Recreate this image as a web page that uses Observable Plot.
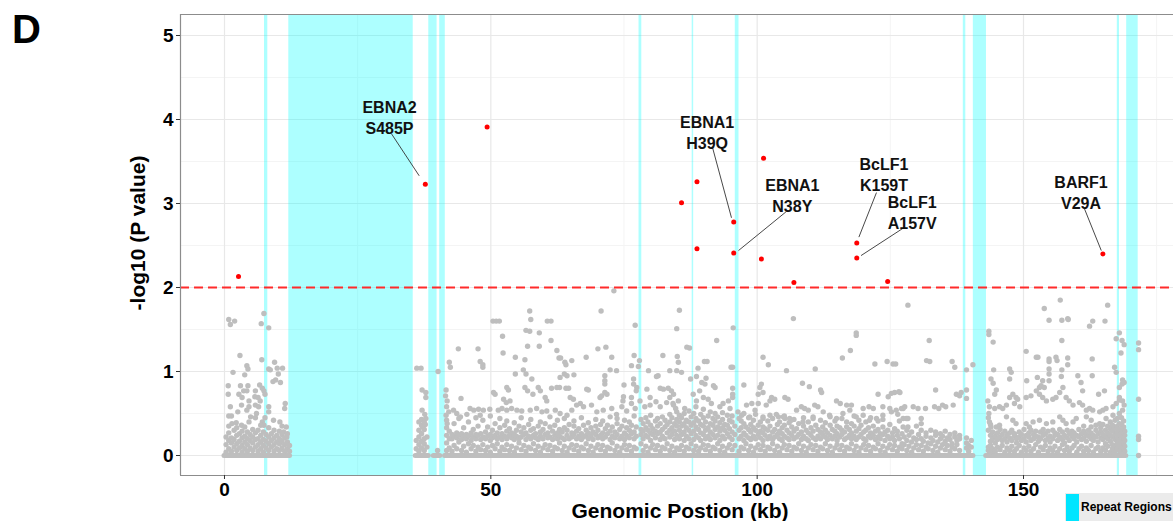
<!DOCTYPE html>
<html><head><meta charset="utf-8">
<script src="https://cdn.jsdelivr.net/npm/d3@7"></script>
<script src="https://cdn.jsdelivr.net/npm/@observablehq/plot@0.6"></script>
<style>
html,body{margin:0;padding:0;background:#fff;overflow:hidden;}
#wrap{position:relative;width:1173px;height:521px;overflow:hidden;font-family:"Liberation Sans",Arial,sans-serif;}
#legend{position:absolute;left:1065px;top:493px;width:108px;height:28px;background:#ebebeb;overflow:hidden;}
#legend .sw{position:absolute;left:1px;top:1px;width:13px;height:27px;background:#00e5ff;}
#legend .tx{position:absolute;left:16px;top:7px;font-weight:bold;font-size:12px;color:#000;white-space:nowrap;}
</style></head>
<body><div id="wrap"><div id="chart"></div>
<div id="legend"><span class="sw"></span><span class="tx">Repeat Regions</span></div></div>
<script>
const xDomain = [-8.26, 178.16];
const yDomain = [-0.238, 5.25];
const xTicks = [0, 50, 100, 150];
const xMinor = [25, 75, 125, 175];
const yTicks = [0, 1, 2, 3, 4, 5];
const yMinor = [0.5, 1.5, 2.5, 3.5, 4.5];
const threshold = 2;
const xTitle = "Genomic Postion (kb)";
const yTitle = "-log10 (P value)";
const panelTag = "D";

// repeat regions [start kb, end kb]
const repeatRegions = [[7.51,8.13],[12.07,35.43],[38.35,39.91],[40.40,41.45],[77.82,78.34],[87.80,88.08],[95.89,96.59],[138.70,139.17],[140.58,143.05],[167.61,168.02],[169.37,171.53]];

// runs of variants with -log10 P = 0 [start kb, end kb]
const zeroRuns = [[0,12.3],[35.9,38.35],[39.3,40.5],[41.4,140.6],[143.0,169.3]];

// significant variants [kb, -log10 P]
const redPoints = [[2.63,2.13],[37.7,3.23],[49.3,3.91],[85.8,3.01],[88.7,3.26],[88.7,2.46],[95.6,2.78],[95.6,2.41],[101.2,3.54],[100.8,2.34],[106.9,2.06],[118.7,2.53],[118.7,2.35],[124.5,2.07],[164.9,2.40]];

// annotation labels
const labelText = ["EBNA2\nS485P","EBNA1\nH39Q","EBNA1\nN38Y","BcLF1\nK159T","BcLF1\nA157V","BARF1\nV29A"];
const labelAt = [[30.98,4.03],[90.6,3.85],[106.6,3.10],[123.8,3.35],[129.1,2.90],[160.8,3.14]];
const leaderFrom = [[31.35,3.83],[91.56,3.68],[105.4,2.90],[122.4,3.13],[127.5,2.71],[161.3,2.96]];
const leaderTo = [[36.55,3.33],[95.18,2.83],[96.5,2.44],[119.1,2.60],[119.5,2.38],[164.6,2.44]];

// non-significant variants [kb, -log10 P]
const grayA = [[0.8,1.62],[1.1,1.56],[1.9,1.6],[7.4,1.69],[6.9,1.57],[8.3,1.52],[2.9,1.19],[7.0,1.14],[4.2,1.07],[4.4,1.03],[1.6,0.99],[3.8,0.96],[9.4,1.11],[8.3,1.03],[8.6,1.02],[9.9,1.04],[10.9,1.04],[10.1,0.97],[9.6,0.9],[9.1,0.88],[10.5,0.87],[0.7,0.83],[3.0,0.83],[4.4,0.83],[0.7,0.73],[2.7,0.73],[3.6,0.77],[4.2,0.77],[5.8,0.77],[6.6,0.84],[7.1,0.8],[7.4,0.77],[7.6,0.73],[3.3,0.69],[4.6,0.65],[5.7,0.7],[6.3,0.69],[6.7,0.65],[11.4,0.62],[11.3,0.56],[1.1,0.58],[3.2,0.6],[4.6,0.58],[5.8,0.6],[6.4,0.58],[8.3,0.58],[8.3,0.52],[0.8,0.47],[1.3,0.47],[4.2,0.54],[4.9,0.46],[5.8,0.45],[9.2,0.42],[7.1,0.4],[7.4,0.36],[1.4,0.38],[2.2,0.39],[3.2,0.36],[4.6,0.4],[11.6,0.34],[11.1,0.28],[11.7,0.22],[7.6,0.45],[6.0,0.5],[2.5,0.52],[10.4,0.4]];
const grayB = [[36.1,1.04],[36.9,1.04],[40.1,1.0],[37.1,0.78],[37.8,0.75],[37.8,0.69],[37.1,0.54],[37.6,0.49],[37.8,0.44],[36.5,0.4],[37.2,0.34],[37.7,0.37],[42.2,1.11],[42.4,1.05],[41.6,0.78],[41.5,0.71],[41.8,0.65],[41.7,0.58],[41.6,0.48],[41.8,0.38]];
const grayC = [[43.9,1.27],[47.6,1.27],[48.0,1.12],[48.5,1.08],[48.5,1.05],[50.4,1.6],[51.0,1.6],[51.6,1.6],[52.2,1.42],[52.3,1.22],[54.6,1.17],[57.3,1.72],[57.5,1.62],[56.6,1.49],[57.3,1.48],[59.1,1.46],[56.9,1.3],[59.1,1.3],[56.4,1.14],[56.1,1.02],[56.6,0.97],[57.7,0.91],[60.6,1.6],[61.3,1.6],[61.3,1.37],[62.4,1.25],[62.8,1.16],[63.1,1.16],[63.9,1.11],[64.1,1.08],[65.2,1.13],[63.8,0.97],[64.3,0.95],[65.6,0.96],[63.0,0.93],[67.9,1.17],[70.1,1.27],[70.7,1.72],[71.6,1.29],[72.7,1.17],[73.1,1.96],[72.4,1.02],[73.6,1.01],[71.4,0.95],[71.4,0.89],[71.4,0.85],[75.0,0.84],[77.1,1.55],[76.9,1.19],[77.9,1.13],[76.4,1.07],[77.7,1.06],[76.8,0.91],[76.8,0.85],[79.6,1.01],[81.4,0.95],[81.1,0.94],[82.3,1.19],[84.9,1.51],[85.0,1.18],[85.2,1.11],[83.6,1.01],[84.9,1.01],[85.4,1.73],
[53.0,0.81],[53.3,0.78],[50.5,0.75],[50.8,0.73],[44.4,0.68],[52.4,0.67],[52.9,0.63],[53.6,0.65],[54.6,0.97],[56.4,0.81],[56.9,0.77],[57.9,0.73],[58.9,0.81],[59.3,0.77],[60.2,0.69],[60.5,0.65],[61.4,0.8],[62.4,0.81],[62.9,0.81],[64.1,0.8],[64.6,0.8],[64.9,0.69],[65.5,0.67],[68.0,0.79],[68.3,0.78],[70.5,0.69],[70.8,0.71],[71.4,0.75],[71.8,0.73],[74.9,0.7],[74.8,0.65],[76.4,0.69],[77.3,0.77],[77.4,0.81],[79.3,0.79],[79.9,0.69],[81.8,0.8],[82.4,0.79],[83.3,0.8],[83.9,0.77],[84.3,0.73],
[42.1,0.52],[43.0,0.54],[43.6,0.5],[46.1,0.56],[46.8,0.54],[47.7,0.55],[48.6,0.54],[49.8,0.55],[44.3,0.46],[45.5,0.49],[48.0,0.48],[51.4,0.54],[52.1,0.56],[53.0,0.54],[53.9,0.56],[54.9,0.54],[55.8,0.53],[57.4,0.54],[58.6,0.56],[59.6,0.52],[60.5,0.53],[62.1,0.54],[63.0,0.5],[64.3,0.48],[65.2,0.54],[66.1,0.6],[66.8,0.62],[67.4,0.58],[68.9,0.6],[69.9,0.52],[71.1,0.54],[72.7,0.56],[73.6,0.49],[74.6,0.58],[75.5,0.53],[76.4,0.62],[77.1,0.56],[78.0,0.65],[78.9,0.58],[79.9,0.6],[81.0,0.64],[81.8,0.58],[83.0,0.63],[84.3,0.6]];
const grayD = [[86.8,1.29],[87.3,1.28],[85.8,0.99],[87.5,0.91],[88.9,1.04],[88.6,0.94],[89.6,0.87],[90.2,0.85],[90.4,0.92],[90.1,1.12],[90.6,1.12],[92.4,1.37],[95.1,1.05],[95.4,1.05],[95.5,1.52],[95.4,0.8],[95.4,0.73],[95.4,0.69],[97.5,0.84],[91.8,0.83],[92.1,0.81],[101.1,1.17],[102.1,1.08],[100.5,0.81],[100.8,0.85],[101.1,0.75],[100.2,0.73],[105.5,1.01],[106.8,1.63],[108.5,0.86],[109.8,0.82],[110.9,1.03],[111.9,0.78],[112.1,0.75],[116.0,1.16],[117.5,1.25],[118.6,1.46],[118.6,1.43],[122.1,1.09],[124.4,1.12],[125.5,1.09],[126.0,1.09],[122.7,0.73],[124.6,0.7],[125.2,0.74],[125.8,0.75],[126.6,0.76],[128.3,1.79],[102.7,0.69],[103.3,0.67],[105.2,0.69],[105.8,0.67],[108.3,0.58],[108.9,0.56],[109.6,0.54],[110.8,0.6],[111.4,0.58],[114.9,0.65],[115.6,0.62],[116.8,0.6],[117.7,0.6],[119.9,0.56],[121.0,0.58],[121.8,0.56],[123.6,0.58],[124.9,0.56],[126.1,0.54],[127.4,0.56],[128.3,0.44],
[83.6,0.69],[84.2,0.62],[84.7,0.56],[85.2,0.65],[86.4,0.56],[88.0,0.73],[88.6,0.65],[89.2,0.77],[89.9,0.69],[90.8,0.67],[91.4,0.62],[93.0,0.58],[93.6,0.62],[94.6,0.65],[94.9,0.56],[98.0,0.6],[99.0,0.62],[99.6,0.54],[100.2,0.62],[101.7,0.6],[102.4,0.65],[104.0,0.46],[105.2,0.44],[106.1,0.44],
[96.4,0.52],[97.1,0.48],[98.6,0.46],[101.1,0.44],[102.4,0.48],[103.6,0.49],[104.9,0.46],[106.4,0.42],[107.4,0.54],[108.6,0.4],[110.5,0.46],[112.4,0.52],[113.6,0.48],[114.9,0.44],[116.1,0.5],[117.4,0.54],[118.6,0.46],[119.9,0.48],[121.1,0.42],[122.4,0.44],[123.6,0.48],[125.2,0.52],[126.4,0.49],[127.4,0.44],
[132.3,1.37],[131.8,1.13],[132.4,1.12],[136.6,1.12],[137.1,1.05],[139.3,1.02],[140.5,1.08],[133.5,0.78],[137.4,0.73],[138.0,0.71],[138.3,0.75],[139.3,0.78],[139.3,0.68],[126.8,0.75],[127.1,0.56],[127.7,0.58],[129.3,0.58],[130.2,0.56],[131.6,0.56],[133.3,0.58],[134.1,0.56],[134.8,0.6],[135.4,0.58],[136.8,0.6],[128.0,0.44],[127.4,0.34],[128.3,0.34],[130.8,0.44],[130.8,0.38]];
const grayE = [[143.5,1.48],[143.5,1.44],[144.3,1.35],[144.4,1.02],[143.9,0.91],[144.3,0.86],[144.9,0.78],[144.6,0.73],[147.4,1.03],[147.7,0.99],[147.4,0.91],[150.5,1.24],[150.6,0.89],[152.4,1.17],[152.7,1.17],[152.6,0.93],[153.6,0.89],[153.9,1.75],[154.8,1.61],[154.8,1.15],[154.8,1.12],[154.8,1.03],[154.8,0.97],[154.8,0.89],[156.1,1.17],[156.3,1.13],[156.9,1.85],[157.2,1.61],[158.3,1.63],[158.4,1.62],[157.2,1.37],[157.2,1.02],[157.1,0.94],[158.3,1.16],[158.3,1.08],[160.2,0.95],[160.8,0.87],[161.1,0.77],[162.4,1.54],[163.0,1.6],[162.9,1.15],[162.9,0.95],[165.3,1.6],[165.8,1.79],[164.1,0.73],[165.2,0.77],[167.1,1.05],[167.4,0.99],[167.4,1.39],[168.0,1.46],[168.5,1.37],[168.9,1.32],[168.3,1.22],[168.6,0.9],[168.9,0.87],[168.5,0.85],[168.0,0.81],[168.0,0.66],[171.6,1.34],[171.6,1.26],[171.6,0.67],[171.6,0.23],[171.6,0.19],[171.6,0],
[143.3,0.65],[143.6,0.58],[143.5,0.5],[143.6,0.4],[143.9,0.34],[144.6,0.56],[145.5,0.58],[146.1,0.56],[146.8,0.6],[147.4,0.69],[148.0,0.73],[148.6,0.69],[148.9,0.67],[148.3,0.62],[149.3,0.58],[150.5,0.69],[151.4,0.71],[152.4,0.77],[153.0,0.81],[153.3,0.83],[153.9,0.81],[153.0,0.73],[153.6,0.69],[154.3,0.65],[155.5,0.67],[156.1,0.69],[156.8,0.75],[157.4,0.81],[158.0,0.69],[158.6,0.65],[159.3,0.6],[160.5,0.63],[161.1,0.6],[161.8,0.54],[162.4,0.56],[163.0,0.54],[164.3,0.52],[164.9,0.54],[165.5,0.56],[166.8,0.58],[167.4,0.62],[168.0,0.69],[168.6,0.65],[168.9,0.6],
[144.9,0.34],[145.5,0.36],[146.8,0.46],[148.0,0.42],[148.6,0.38],[150.5,0.38],[151.1,0.34],[151.8,0.4],[153.0,0.42],[154.3,0.38],[155.5,0.4],[156.8,0.46],[157.4,0.42],[158.0,0.38],[159.3,0.4],[159.9,0.44],[161.8,0.46],[162.7,0.42],[164.3,0.38],[165.5,0.44],[166.8,0.48],[168.0,0.5],[168.6,0.54]];

// dense low-value variants: [kb, values...]
const denseColumns = [
[0.3,.04,.13,.22],[0.8,.08,.18,.27,.35],[1.3,.05,.15,.21],[1.8,.1,.19,.3],[2.3,.06,.14,.24,.33],[2.8,.09,.17,.26],[3.3,.04,.12,.21,.29],[3.8,.08,.16,.23,.34],[4.3,.05,.13,.2,.28],[4.8,.09,.18,.25],[5.3,.06,.15,.22,.31],[5.8,.1,.19,.27],[6.3,.05,.13,.2,.3],[6.8,.08,.16,.24,.36],[7.3,.04,.12,.19,.28],[7.8,.09,.17,.25],[8.3,.06,.14,.22,.33],[8.8,.1,.18,.26],[9.3,.05,.13,.21,.3],[9.8,.08,.16,.24],[10.3,.06,.14,.2,.29],[10.8,.09,.17,.25,.35],[11.3,.05,.13,.21],[11.8,.08,.16,.26],[12.2,.05,.12],
[36.0,.08,.18],[36.5,.05,.13,.22,.3],[37.0,.09,.17,.26,.36,.43],[37.5,.06,.14,.2,.31,.4],[38.0,.1,.22],[40.0,.06],[41.7,.06,.15,.24,.33,.42],[42.2,.09,.2,.29],
[42.7,.05,.2,.25],[43.1,.12,.23,.38],[43.6,.08,.21,.27],[44.0,.16,.24,.44],[44.5,.06,.19,.26],[44.9,.11,.22,.33],[45.4,.04,.2,.25],[45.8,.14,.23,.4],[46.3,.08,.18,.27],[46.7,.12,.22,.31],[47.2,.05,.2,.25,.45],[47.6,.1,.24,.35],[48.1,.07,.19,.26],[48.5,.13,.22,.42],[49.0,.06,.2,.28],[49.4,.1,.23,.34],[49.9,.04,.18,.25,.47],[50.3,.12,.21,.3],[50.8,.08,.24,.38],[51.2,.14,.2,.27],[51.7,.05,.22,.33,.44],[52.1,.1,.19,.26],[52.6,.07,.23,.36],[53.0,.13,.2,.29,.41],[53.5,.06,.24,.32],[53.9,.11,.21,.27],[54.4,.04,.19,.25,.39],[54.8,.09,.23,.3],[55.3,.15,.2,.35],[55.7,.07,.22,.28,.45],[56.2,.12,.25,.33],[56.6,.05,.19,.27],[57.1,.1,.23,.37],[57.5,.08,.2,.3,.43],[58.0,.14,.24,.32],[58.4,.06,.21,.26],[58.9,.11,.19,.35],[59.3,.04,.23,.28,.4],[59.8,.09,.2,.31],[60.2,.13,.25,.38],[60.7,.07,.21,.27],[61.1,.12,.22,.34,.46],[61.6,.05,.19,.29],[62.0,.1,.24,.36],[62.5,.08,.2,.27,.42],[62.9,.15,.23,.31],[63.4,.06,.21,.28],[63.8,.11,.19,.33,.44],[64.3,.04,.24,.3],[64.7,.09,.2,.37],[65.2,.13,.22,.27],[65.6,.07,.25,.35,.41],[66.1,.12,.2,.29],[66.5,.05,.23,.32],[67.0,.1,.19,.26,.45],[67.4,.08,.22,.36],[67.9,.14,.24,.3],[68.3,.06,.2,.27,.39],[68.8,.11,.23,.33],[69.2,.04,.19,.28],[69.7,.09,.25,.35,.43],[70.1,.13,.21,.3],[70.6,.07,.24,.37],[71.0,.12,.2,.27,.41],[71.5,.05,.22,.32],[71.9,.1,.26,.36],[72.4,.08,.19,.29,.46],[72.8,.15,.23,.34],[73.3,.06,.21,.28],[73.7,.11,.25,.38,.44],[74.2,.04,.2,.31],[74.6,.09,.23,.35],[75.1,.13,.19,.27,.42],[75.5,.07,.24,.33],[76.0,.12,.21,.3,.4],[76.4,.05,.26,.36],[76.9,.1,.2,.28,.47],[77.3,.08,.23,.34],[78.2,.14,.25,.31,.43],[78.6,.06,.2,.29,.38],[79.1,.11,.24,.33,.45],[79.5,.04,.22,.3,.4],[80.0,.09,.18,.27,.36,.48],[80.4,.13,.25,.32],[80.9,.07,.21,.29,.41],[81.3,.12,.26,.35,.44],[81.8,.05,.19,.28,.38],[82.2,.1,.23,.31,.46],[82.7,.08,.2,.34,.42],[83.1,.14,.27,.37],[83.6,.06,.22,.3,.4,.49],[84.0,.11,.25,.33,.45],[84.5,.04,.19,.29,.38],[84.9,.09,.24,.35,.43,.52],
[85.4,.07,.2,.3,.4,.48],[85.8,.12,.25,.35,.45],[86.3,.05,.18,.28,.38,.5],[86.7,.1,.23,.33,.42],[87.2,.08,.2,.3,.4,.53],[87.6,.14,.26,.36,.46],[88.1,.06,.19,.29,.39,.5],[88.5,.11,.24,.34,.44,.58],[89.0,.05,.21,.31,.41],[89.4,.09,.18,.27,.37,.49],[89.9,.13,.25,.35,.45,.55],[90.3,.07,.2,.3,.4],[90.8,.12,.23,.33,.47],[91.2,.05,.19,.28,.38,.52],[91.7,.1,.25,.36,.44],[92.1,.08,.21,.31,.41,.5],[92.6,.14,.24,.34,.46],[93.0,.06,.18,.29,.39],[93.5,.11,.23,.33,.43,.51],[93.9,.04,.2,.3,.37],[94.4,.09,.26,.36,.48],[94.8,.13,.22,.32,.42],[95.3,.07,.19,.28,.4,.47],[95.8,.12,.25,.35],[96.6,.05,.2,.3,.44],[97.0,.1,.23,.33,.41],[97.5,.08,.18,.27,.38,.5],[97.9,.14,.24,.34],[98.4,.06,.21,.31,.45],[98.8,.11,.19,.28,.37],[99.3,.04,.23,.33,.42],[99.7,.09,.2,.3,.49],[100.2,.13,.25,.36],[100.6,.07,.21,.29,.4],[101.1,.12,.18,.27,.34,.46],[101.5,.05,.24,.32],[102.0,.1,.2,.3,.41],[102.4,.08,.23,.35],[102.9,.14,.19,.28,.44],[103.3,.06,.22,.31],[103.8,.11,.25,.37],[104.2,.04,.2,.29,.4],[104.7,.09,.18,.26,.33],[105.1,.13,.23,.36,.47],[105.6,.07,.21,.3],[106.0,.12,.19,.27,.39],[106.5,.05,.24,.34],[106.9,.1,.2,.29,.43],[107.4,.08,.22,.32],[107.8,.14,.25,.38],[108.3,.06,.19,.28],[108.7,.11,.23,.35,.45],[109.2,.04,.2,.3],[109.6,.09,.18,.27,.4],[110.1,.13,.24,.33],[110.5,.07,.21,.29,.44],[111.0,.12,.19,.36],[111.4,.05,.23,.31],[111.9,.1,.2,.28,.42],[112.3,.08,.25,.34],[112.8,.14,.22,.3,.39],[113.2,.06,.19,.27],[113.7,.11,.24,.36,.46],[114.1,.04,.2,.31],[114.6,.09,.23,.29,.41],[115.0,.13,.18,.26,.35],[115.5,.07,.22,.33],[115.9,.12,.25,.3,.44],[116.4,.05,.19,.28],[116.8,.1,.21,.34,.4],[117.3,.08,.24,.31],[117.7,.14,.2,.27,.38],[118.2,.06,.23,.35,.47],[118.6,.11,.19,.29],[119.1,.04,.22,.32,.42],[119.5,.09,.25,.36],[120.0,.13,.2,.28],[120.4,.07,.18,.3,.4],[120.9,.12,.23,.33],[121.3,.05,.21,.27,.45],[121.8,.1,.24,.35],[122.2,.08,.19,.29],[122.7,.14,.22,.31,.41],[123.1,.06,.2,.26],[123.6,.11,.25,.34,.43],[124.0,.04,.18,.28],[124.5,.09,.23,.3],[124.9,.13,.2,.37],[125.4,.07,.22,.27],[125.8,.12,.18,.32],[126.3,.05,.24,.29],[126.7,.1,.2,.41],[127.2,.08,.14,.26],[127.6,.13,.22],[128.1,.06,.18,.3],[128.5,.11,.24],[129.0,.04,.16,.28],[129.4,.09,.21],[129.9,.13,.19,.35],[130.3,.07,.25],[130.8,.12,.2,.3],[131.2,.05,.17],[131.7,.1,.23,.27],[132.1,.08,.15],[132.6,.14,.21,.3],[133.0,.06,.18],[133.5,.11,.24,.28],[133.9,.04,.16],[134.4,.09,.2,.26],[134.8,.13,.23],[135.3,.07,.17,.29],[135.7,.12,.21],[136.2,.05,.19,.25],[136.6,.1,.14],[137.1,.08,.22,.27],[137.5,.13,.18],[138.0,.06,.2,.24],[139.3,.09,.15,.21],[139.7,.05,.12],[140.2,.1,.18],
[143.4,.06,.1,.3,.45],[143.8,.04,.12,.17,.24,.37],[144.2,.08,.2,.28],[144.7,.05,.15,.23],[145.1,.1,.19,.27],[145.6,.07,.22,.31],[146.0,.12,.18,.25],[146.5,.04,.2,.29],[146.9,.09,.16,.24],[147.4,.06,.21,.27],[147.8,.11,.18,.3],[148.3,.05,.23,.26],[148.7,.08,.15,.2],[149.2,.12,.22,.28],[149.6,.04,.18,.25],[150.1,.09,.2,.31],[150.5,.06,.16,.24],[151.0,.11,.22,.27],[151.4,.05,.18,.3],[151.9,.08,.2,.25],[152.3,.13,.23,.29],[152.8,.04,.17,.22],[153.2,.1,.2,.28],[153.7,.07,.24,.31],[154.1,.12,.18,.26],[154.6,.05,.21,.29],[155.0,.09,.16,.23],[155.5,.06,.2,.3],[155.9,.11,.24,.27],[156.4,.04,.18,.25],[156.8,.08,.22,.31],[157.3,.13,.19,.28],[157.7,.06,.15,.24],[158.2,.1,.21,.3],[158.6,.05,.18,.26],[159.1,.09,.23,.29],[159.5,.12,.2,.27],[160.0,.04,.16,.24],[160.4,.08,.22,.31],[160.9,.11,.19,.26],[161.3,.05,.21,.29,.35],[161.8,.09,.17,.25],[162.2,.06,.23,.3],[162.7,.12,.2,.27,.34],[163.1,.04,.18,.24],[163.6,.08,.22,.3,.36],[164.0,.1,.16,.26],[164.5,.05,.21,.28,.33],[164.9,.09,.19,.25,.37],[165.4,.06,.14,.23,.3],[165.8,.11,.2,.27,.35],[166.3,.04,.17,.24,.32,.4],[166.7,.08,.13,.22,.29,.36],[167.2,.05,.11,.19,.26,.33,.42],[167.6,.09,.15,.21,.28,.35,.44],[168.0,.06,.12,.18,.25,.31,.38],[168.4,.04,.1,.16,.23,.3,.37,.45],[168.8,.07,.14,.2,.27,.34,.41],[169.0,.05,.11,.18,.24,.29]
];

const gray = [...grayA, ...grayB, ...grayC, ...grayD, ...grayE].map(([x, y]) => ({x, y}))
  .concat(denseColumns.flatMap(([x, ...vs]) => vs.map(y => ({x, y}))));
const reds = redPoints.map(([x, y]) => ({x, y}));
const bands = repeatRegions.map(([x1, x2]) => ({x1, x2}));
const runs = zeroRuns.map(([x1, x2]) => ({x1, x2}));
const labels = labelText.map((t, i) => ({
  text: t, x: labelAt[i][0], y: labelAt[i][1],
  x1: leaderFrom[i][0], y1: leaderFrom[i][1], x2: leaderTo[i][0], y2: leaderTo[i][1]
}));

const chart = Plot.plot({
  width: 1173,
  height: 521,
  marginLeft: 180,
  marginRight: 0,
  marginTop: 14,
  marginBottom: 46,
  x: {domain: xDomain},
  y: {domain: yDomain},
  style: {fontFamily: '"Liberation Sans", Arial, sans-serif', fontWeight: "bold", color: "#000", background: "#fff", overflow: "visible"},
  marks: [
    Plot.gridX(xMinor, {stroke: "#f4f4f4", strokeOpacity: 1, strokeWidth: 1}),
    Plot.gridY(yMinor, {stroke: "#f4f4f4", strokeOpacity: 1, strokeWidth: 1}),
    Plot.gridX(xTicks, {stroke: "#e8e8e8", strokeOpacity: 1, strokeWidth: 1.2}),
    Plot.gridY(yTicks, {stroke: "#e8e8e8", strokeOpacity: 1, strokeWidth: 1.2}),
    Plot.rect(bands, {x1: "x1", x2: "x2", y1: yDomain[0], y2: yDomain[1], fill: "#00ffff", fillOpacity: 0.32}),
    Plot.ruleY(runs, {x1: "x1", x2: "x2", y: 0, stroke: "#bebebe", strokeWidth: 5, strokeLinecap: "round"}),
    Plot.dot(gray, {x: "x", y: "y", r: 2.7, fill: "#bebebe", stroke: null}),
    Plot.ruleY([threshold], {stroke: "#ff2b2b", strokeWidth: 2, strokeDasharray: "9,5"}),
    Plot.dot(reds, {x: "x", y: "y", r: 2.5, fill: "#ff0000", stroke: null}),
    Plot.link(labels, {x1: "x1", y1: "y1", x2: "x2", y2: "y2", stroke: "#333", strokeWidth: 0.9}),
    Plot.text(labels, {x: "x", y: "y", text: "text", fontSize: 16, lineHeight: 1.3, fill: "#111"}),
    Plot.ruleX([xDomain[0]], {stroke: "#8c8c8c", strokeWidth: 1.2}),
    Plot.ruleY([yDomain[0], yDomain[1]], {stroke: "#8c8c8c", strokeWidth: 1.2}),
    Plot.axisX(xTicks, {tickSize: 4, tickPadding: 3, fontSize: 19, stroke: "#333", label: null, tickFormat: d => String(d)}),
    Plot.axisY(yTicks, {tickSize: 4, tickPadding: 3, fontSize: 19, stroke: "#333", label: null, tickFormat: d => String(d)}),
    Plot.text([xTitle], {text: d => d, frameAnchor: "bottom", lineAnchor: "middle", textAnchor: "middle", dx: 3, dy: 36, fontSize: 21}),
    Plot.text([yTitle], {text: d => d, frameAnchor: "left", lineAnchor: "middle", textAnchor: "middle", rotate: -90, dx: -42, dy: -12, fontSize: 21}),
    Plot.text([panelTag], {text: d => d, frameAnchor: "top-left", lineAnchor: "middle", textAnchor: "middle", dx: -154, dy: 16, fontSize: 40})
  ]
});
document.getElementById("chart").appendChild(chart);
</script>
</body></html>
